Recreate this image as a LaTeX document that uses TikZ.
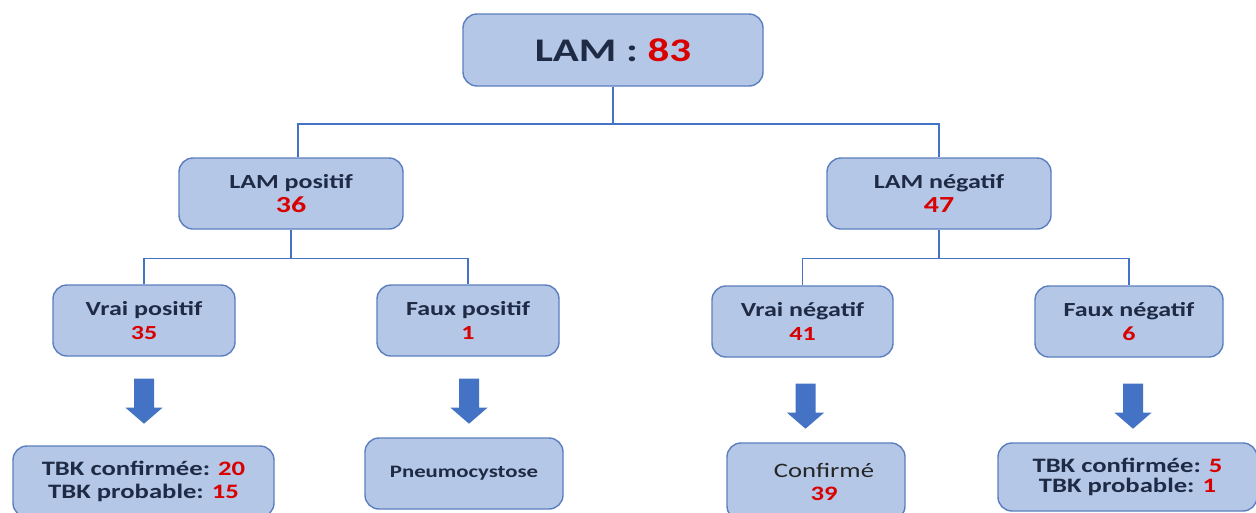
\documentclass[tikz,border=0pt]{standalone}
\usepackage{fontspec}
\newfontfamily\labfont{Carlito}[FakeStretch=1.3]
\usetikzlibrary{positioning,calc}
\definecolor{boxfill}{HTML}{B4C7E7}
\definecolor{boxline}{HTML}{5B7FBE}
\definecolor{linkc}{HTML}{4472C4}
\definecolor{ink}{HTML}{1F2B45}
\definecolor{numred}{HTML}{D80000}
\newcommand{\cnt}[1]{{\color{numred}#1}}
% block arrow, #1 = top middle of the shaft
\newcommand{\blkarrow}[1]{\fill[blk] #1 ++(-10,0) -- ++(20,0) -- ++(0,29) -- ++(8.5,0)
  -- ++(-18.5,16) -- ++(-18.5,-16) -- ++(8.5,0) -- cycle;}

\begin{document}
\begin{tikzpicture}[
  x=1pt, y=-1pt,
  box/.style={draw=boxline, fill=boxfill, line width=1.4pt, rounded corners=14pt,
              align=center, inner sep=0pt, text=ink, minimum height=71pt,
              font=\labfont\bfseries\fontsize{20}{24}\selectfont},
  big/.style={font=\labfont\bfseries\fontsize{33}{40}\selectfont},
  outcome/.style={font=\labfont\bfseries\fontsize{20.5}{23}\selectfont},
  link/.style={draw=linkc, line width=1.5pt},
  blk/.style={fill=linkc},
]
\useasboundingbox (0,0) rectangle (1256,512);
\fill[white] (0,0) rectangle (1256,512);
\clip (0,0) rectangle (1256,512);
% -- root
\node[box, big, minimum width=300pt, minimum height=72pt] (lam) at (613,50) {LAM : \cnt{83}};
% -- second level
\node[box, minimum width=224pt] (pos) at (291,193.5) {LAM positif\\{\fontsize{23}{25}\selectfont\cnt{36}}};
\node[box, minimum width=224pt] (neg) at (939,193.5) {LAM négatif\\{\fontsize{23}{25}\selectfont\cnt{47}}};
% -- third level
\node[box, minimum width=182pt] (vp) at (144,320.5) {Vrai positif\\\cnt{35}};
\node[box, minimum width=182pt] (fp) at (468,320.5) {Faux positif\\\cnt{1}};
\node[box, minimum width=181pt] (vn) at (802.5,321.5) {Vrai négatif\\\cnt{41}};
\node[box, minimum width=188pt] (fn) at (1129,321.5) {Faux négatif\\\cnt{6}};
% -- outcomes
\node[box, outcome, minimum width=261pt] (tbkp) at (143.5,481.5) {TBK confirmée: \cnt{20}\\TBK probable: \cnt{15}};
\node[box, outcome, font=\labfont\bfseries\fontsize{17.5}{20}\selectfont, minimum width=198pt] (pneumo) at (464,473.5) {Pneumocystose};
\node[box, outcome, minimum width=178pt, minimum height=77pt] (conf) at (816,481.5)
  {\hspace*{16pt}{\mdseries\color{black!85}Confirmé}\\\hspace*{16pt}\cnt{39}};
\node[box, outcome, font=\labfont\bfseries\fontsize{20.5}{20}\selectfont, minimum width=259pt, minimum height=68pt] (tbkn) at (1127.5,477)
  {TBK confirmée: \cnt{5}\\TBK probable: \cnt{1}};
% -- tree links
\coordinate (bus) at (613,124);
\draw[link] (lam.south) -- (bus);
\draw[link] ([xshift=7]pos.north) |- (bus) -| (neg.north);
\draw[link] (vp.north) |- ($(pos.south)+(0,29)$) -| (fp.north);
\draw[link] (pos.south) -- ++(0,29);
\draw[link] (vn.north) |- ($(neg.south)+(0,29)$) -| (fn.north);
\draw[link] (neg.south) -- ++(0,29);
% -- block arrows
\blkarrow{([yshift=-22]vp.south)}
\blkarrow{([xshift=1,yshift=-22]fp.south)}
\blkarrow{([xshift=3,yshift=-26]vn.south)}
\blkarrow{([xshift=4,yshift=-26]fn.south)}
\end{tikzpicture}
\end{document}
